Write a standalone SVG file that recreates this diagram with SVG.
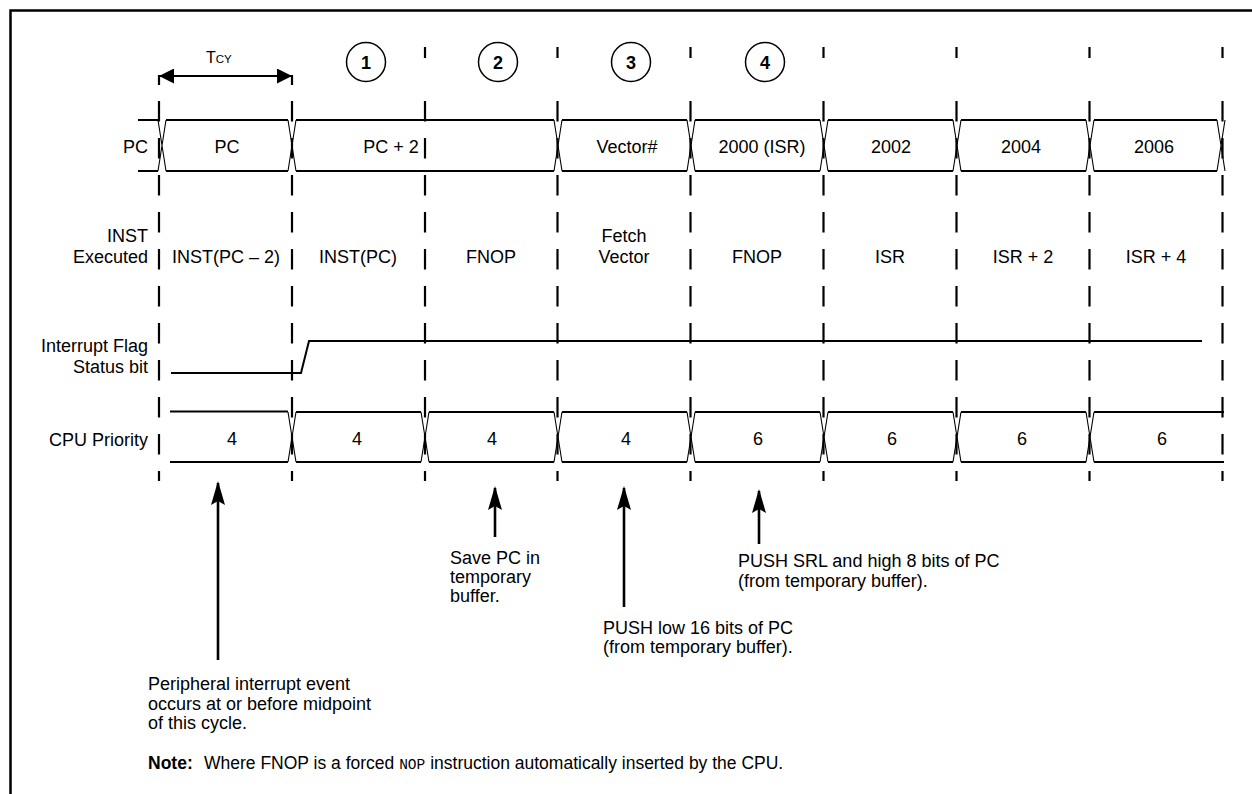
<svg xmlns="http://www.w3.org/2000/svg" width="1252" height="794" viewBox="0 0 1252 794">
<style>
text{font-family:"Liberation Sans",Arial,Helvetica,sans-serif;font-size:18px;fill:#000}
.r{text-anchor:end}
.m{text-anchor:middle}
.dash{stroke:#000;stroke-width:2.2;stroke-dasharray:20.5 16.5;fill:none}
.tick{stroke:#000;stroke-width:2.2;fill:none}
.h{stroke:#000;stroke-width:2;fill:none}
.x{stroke:#000;stroke-width:1.1;fill:none}
.arr{stroke:#000;stroke-width:2.6;fill:none}
.head{fill:#000;stroke:none}
.circ{fill:none;stroke:#000;stroke-width:1.5}
.num{font-weight:bold;text-anchor:middle}
</style>
<defs>
<marker id="ah" viewBox="0 0 24 14" refX="22" refY="7" markerWidth="24" markerHeight="14" markerUnits="userSpaceOnUse" orient="auto">
<path class="head" d="M0,0 L24,7 L0,14 L4,7 Z"/>
</marker>
<marker id="th" viewBox="0 0 15 15" refX="14" refY="7.5" markerWidth="15" markerHeight="15" markerUnits="userSpaceOnUse" orient="auto-start-reverse">
<path class="head" d="M0,0 L15,7.5 L0,15 Z"/>
</marker>
</defs>
<rect width="1252" height="794" fill="#fff"/>
<g id="frame"><path d="M10.5,794 L10.5,10.5 L1252,10.5" fill="none" stroke="#000" stroke-width="2.5"/></g>

<g id="gridlines">
<path class="tick" d="M159,75 V85 M292,75 V85"/>
<path class="tick" d="M425,47 V58 M557.5,47 V58 M690.5,47 V58 M823.5,47 V58 M956.5,47 V58 M1089.5,47 V58 M1222.5,47 V58"/>
<path class="dash" d="M159,101 V481 M292,101 V481 M425,101 V481 M557.5,101 V481 M690.5,101 V481 M823.5,101 V481 M956.5,101 V481 M1089.5,101 V481 M1222.5,101 V481"/>
</g>

<g id="tcy">
<line class="tick" x1="160" y1="76" x2="291" y2="76" marker-start="url(#th)" marker-end="url(#th)"/>
<text x="206" y="63" style="font-size:16px">T<tspan style="font-size:11.5px">CY</tspan></text>
</g>

<g id="step1"><circle class="circ" cx="366" cy="62" r="19.5"/><text class="num" x="366" y="68.5">1</text></g>
<g id="step2"><circle class="circ" cx="498" cy="62" r="19.5"/><text class="num" x="498" y="68.5">2</text></g>
<g id="step3"><circle class="circ" cx="631" cy="62" r="19.5"/><text class="num" x="631" y="68.5">3</text></g>
<g id="step4"><circle class="circ" cx="765" cy="62" r="19.5"/><text class="num" x="765" y="68.5">4</text></g>

<g id="labels">
<text class="r" x="148" y="153">PC</text>
<text class="r" x="148" y="242">INST</text>
<text class="r" x="148" y="263">Executed</text>
<text class="r" x="148" y="352">Interrupt Flag</text>
<text class="r" x="148" y="373">Status bit</text>
<text class="r" x="148" y="446">CPU Priority</text>
</g>

<g id="pc-row">
<path class="h" d="M138,120 H158 M166,120 H288 M296,120 H554 M562,120 H687 M695,120 H820 M828,120 H953 M961,120 H1086 M1094,120 H1217
M138,171 H158 M166,171 H288 M296,171 H554 M562,171 H687 M695,171 H820 M828,171 H953 M961,171 H1086 M1094,171 H1217"/>
<path class="x" d="M158,120 L166,171 M166,120 L158,171 M288,120 L296,171 M296,120 L288,171 M554,120 L562,171 M562,120 L554,171 M687,120 L695,171 M695,120 L687,171 M820,120 L828,171 M828,120 L820,171 M953,120 L961,171 M961,120 L953,171 M1086,120 L1094,171 M1094,120 L1086,171 M1217,120 L1225,171 M1225,120 L1217,171"/>
<text class="m" x="227" y="153">PC</text>
<text class="m" x="391" y="153">PC + 2</text>
<text class="m" x="627" y="153">Vector#</text>
<text class="m" x="762" y="153">2000 (ISR)</text>
<text class="m" x="891" y="153">2002</text>
<text class="m" x="1021" y="153">2004</text>
<text class="m" x="1154" y="153">2006</text>
</g>

<g id="inst-row">
<text class="m" x="226" y="263">INST(PC – 2)</text>
<text class="m" x="358" y="263">INST(PC)</text>
<text class="m" x="491" y="263">FNOP</text>
<text class="m" x="624" y="242">Fetch</text>
<text class="m" x="624" y="263">Vector</text>
<text class="m" x="757" y="263">FNOP</text>
<text class="m" x="890" y="263">ISR</text>
<text class="m" x="1023" y="263">ISR + 2</text>
<text class="m" x="1156" y="263">ISR + 4</text>
</g>

<g id="flag-row">
<path class="h" d="M171,373 H301 L309,341 H1202"/>
</g>

<g id="cpu-row">
<path class="h" d="M170,411.5 H288 M296,412 H421 M429,412 H554 M562,412 H687 M695,412 H820 M828,412 H953 M961,412 H1086 M1094,412 H1224
M170,462 H288 M296,462 H421 M429,462 H554 M562,462 H687 M695,462 H820 M828,462 H953 M961,462 H1086 M1094,462 H1224"/>
<path class="x" d="M288,412 L296,462 M296,412 L288,462 M421,412 L429,462 M429,412 L421,462 M554,412 L562,462 M562,412 L554,462 M687,412 L695,462 M695,412 L687,462 M820,412 L828,462 M828,412 L820,462 M953,412 L961,462 M961,412 L953,462 M1086,412 L1094,462 M1094,412 L1086,462"/>
<text class="m" x="232" y="445">4</text>
<text class="m" x="357" y="445">4</text>
<text class="m" x="492" y="445">4</text>
<text class="m" x="626" y="445">4</text>
<text class="m" x="758" y="445">6</text>
<text class="m" x="892" y="445">6</text>
<text class="m" x="1022" y="445">6</text>
<text class="m" x="1162" y="445">6</text>
</g>

<g id="connectors">
<line class="arr" x1="218" y1="660" x2="218" y2="483" marker-end="url(#ah)"/>
<line class="arr" x1="495" y1="537" x2="495" y2="488" marker-end="url(#ah)"/>
<line class="arr" x1="624" y1="607" x2="624" y2="488" marker-end="url(#ah)"/>
<line class="arr" x1="759" y1="544" x2="759" y2="491" marker-end="url(#ah)"/>
</g>

<g id="note-interrupt">
<text x="148" y="690">Peripheral interrupt event</text>
<text x="148" y="709.5">occurs at or before midpoint</text>
<text x="148" y="729">of this cycle.</text>
</g>
<g id="note-save">
<text x="450" y="564">Save PC in</text>
<text x="450" y="583">temporary</text>
<text x="450" y="602">buffer.</text>
</g>
<g id="note-push-low">
<text x="603" y="634">PUSH low 16 bits of PC</text>
<text x="603" y="653">(from temporary buffer).</text>
</g>
<g id="note-push-high">
<text x="738" y="567">PUSH SRL and high 8 bits of PC</text>
<text x="738" y="586.5">(from temporary buffer).</text>
</g>

<g id="footnote">
<text x="148" y="769" style="font-weight:bold;font-size:17.5px">Note:</text>
<text x="204" y="769" style="font-size:17.5px">Where FNOP is a forced <tspan style="font-family:'Liberation Mono','Courier New',monospace;font-size:14.5px">NOP</tspan> instruction automatically inserted by the CPU.</text>
</g>
</svg>
